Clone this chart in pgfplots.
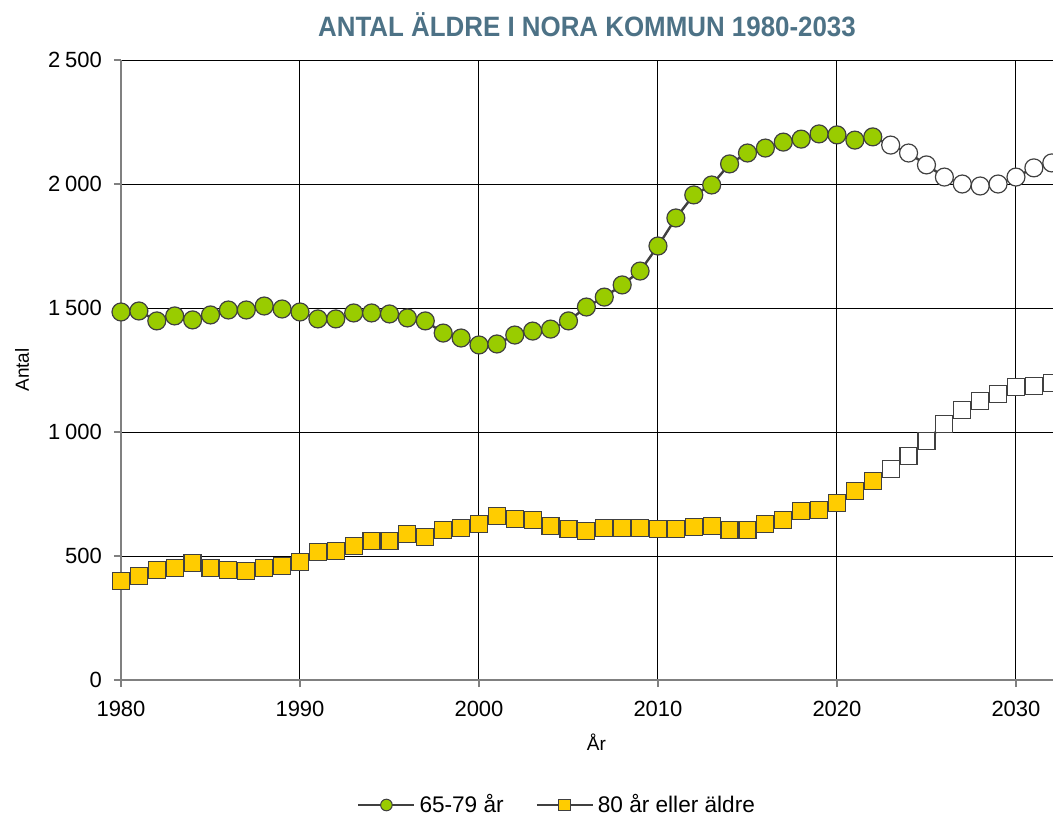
\documentclass[border=0pt]{standalone}
\usepackage{fontspec}
\setmainfont{Liberation Sans}
\usepackage{pgfplots}
\usepackage{pgfplotstable}
\usepackage{graphicx}
\pgfplotsset{compat=1.18}
\definecolor{grn}{HTML}{99CC00}
\definecolor{yel}{HTML}{FFCC00}
\definecolor{ln}{HTML}{404040}
\definecolor{ttl}{HTML}{4D7286}

\pgfplotstableread{
year val
1980 1484
1981 1488
1982 1448
1983 1468
1984 1452
1985 1472
1986 1492
1987 1492
1988 1508
1989 1496
1990 1484
1991 1456
1992 1456
1993 1480
1994 1480
1995 1476
1996 1460
1997 1448
1998 1399
1999 1379
2000 1351
2001 1355
2002 1391
2003 1407
2004 1415
2005 1448
2006 1504
2007 1544
2008 1593
2009 1649
2010 1750
2011 1863
2012 1956
2013 1996
2014 2081
2015 2125
2016 2145
2017 2169
2018 2181
2019 2202
2020 2198
2021 2177
2022 2190
2023 2157
2024 2125
2025 2077
2026 2028
2027 2000
2028 1992
2029 2000
2030 2028
2031 2065
2032 2085
}\young

\pgfplotstableread{
year val
1980 399
1981 419
1982 444
1983 452
1984 472
1985 452
1986 444
1987 440
1988 452
1989 460
1990 476
1991 516
1992 520
1993 540
1994 560
1995 560
1996 589
1997 577
1998 605
1999 613
2000 629
2001 661
2002 649
2003 645
2004 621
2005 609
2006 601
2007 613
2008 613
2009 613
2010 609
2011 609
2012 617
2013 621
2014 605
2015 605
2016 629
2017 645
2018 681
2019 685
2020 714
2021 762
2022 802
2023 851
2024 903
2025 964
2026 1032
2027 1089
2028 1125
2029 1153
2030 1181
2031 1185
2032 1198
}\old

\begin{document}
\begin{tikzpicture}
\path[use as bounding box] (-60.5pt,-70pt) rectangle (466pt,340pt);
\begin{axis}[
  at={(0,0)}, anchor=south west, scale only axis,
  width=466pt, height=310pt,
  xmin=1980, xmax=2032.07, ymin=0, ymax=2500,
  xtick={1980,1990,...,2030}, ytick={0,500,...,2500},
  grid=major, major grid style={black, line width=0.5pt},
  axis x line*=bottom, axis y line*=left,
  axis line style={gray, line width=0.7pt, -},
  tick style={gray, line width=0.7pt}, tick align=outside, major tick length=3.5pt,
  /pgf/number format/assume math mode=true,
  /pgf/number format/1000 sep={\kern0.22em},
  x tick label style={/pgf/number format/1000 sep={}, yshift=-3.5pt},
  y tick label style={xshift=-2.5pt},
  tick label style={font=\fontsize{11}{13}\selectfont, black},
  clip mode=individual,
  ylabel={Antal},
  ylabel style={at={(axis description cs:-0.106,0.5)}, anchor=center, rotate=0, font=\fontsize{9.5}{11}\selectfont},
  xlabel={År},
  xlabel style={at={(axis description cs:0.51,-0.1)}, anchor=center, font=\fontsize{9.5}{11}\selectfont},
  title={\scalebox{0.925}[1]{ANTAL ÄLDRE I NORA KOMMUN 1980-2033}},
  title style={at={(axis description cs:0.5,1.037)}, anchor=center, font=\fontsize{14}{16}\selectfont\bfseries, text=ttl},
  legend style={at={(axis description cs:0.469,-0.2016)}, anchor=center, draw=none,
    font=\fontsize{11.3}{13}\selectfont, /tikz/every even column/.append style={column sep=14pt}},
  legend columns=2,
  legend image code/.code={\draw[mark repeat=2,mark phase=2] plot coordinates {(0pt,0pt)(14pt,0pt)(28pt,0pt)};},
]
\addlegendimage{ln, line width=1.1pt, mark=*, mark size=2.9pt, mark options={fill=grn, draw=ln, line width=0.5pt}}
\addlegendentry{65-79 år}
\addlegendimage{ln, line width=1.1pt, mark=square*, mark size=2.9pt, mark options={fill=yel, draw=ln, line width=0.5pt}}
\addlegendentry{80 år eller äldre}

\addplot[ln, line width=1.2pt, no marks, forget plot] table[x=year, y=val] {\young};
\addplot[ln, line width=1.2pt, no marks, forget plot] table[x=year, y=val] {\old};

\addplot[only marks, mark=*, mark size=4.5pt, mark options={fill=grn, draw=ln, line width=0.6pt}, restrict x to domain=1980:2022, forget plot] table[x=year, y=val] {\young};
\addplot[only marks, mark=*, mark size=4.5pt, mark options={fill=white, draw=ln, line width=0.6pt}, restrict x to domain=2023:2032, forget plot] table[x=year, y=val] {\young};

\addplot[only marks, mark=square*, mark size=4.25pt, mark options={fill=yel, draw=ln, line width=0.6pt}, restrict x to domain=1980:2022, forget plot] table[x=year, y=val] {\old};
\addplot[only marks, mark=square*, mark size=4.25pt, mark options={fill=white, draw=ln, line width=0.6pt}, restrict x to domain=2023:2032, forget plot] table[x=year, y=val] {\old};
\end{axis}
\end{tikzpicture}
\end{document}
